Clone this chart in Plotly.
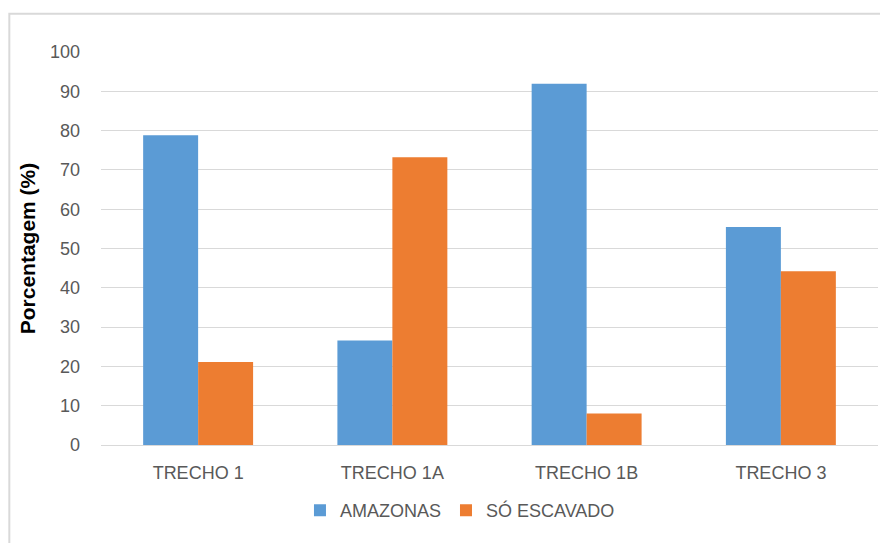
import plotly.graph_objects as go

trechos = ["TRECHO 1", "TRECHO 1A", "TRECHO 1B", "TRECHO 3"]
amazonas = [78.8, 26.6, 91.9, 55.5]
so_escavado = [21.1, 73.2, 8.0, 44.2]

blue = "#5B9BD5"
orange = "#ED7D31"
font_family = "Liberation Sans"

fig = go.Figure()
fig.add_trace(go.Bar(name="AMAZONAS", x=trechos, y=amazonas,
                     marker=dict(color=blue, line=dict(width=0))))
fig.add_trace(go.Bar(name="SÓ ESCAVADO", x=trechos, y=so_escavado,
                     marker=dict(color=orange, line=dict(width=0))))

fig.update_layout(
    width=880, height=543,
    margin=dict(l=101, r=2, t=52, b=98),
    paper_bgcolor="white", plot_bgcolor="white",
    barmode="group", bargap=0.434, bargroupgap=0,
    font=dict(family=font_family, size=16, color="#595959"),
    showlegend=True,
    legend=dict(orientation="h", x=0.462, xanchor="center", y=-0.167, yanchor="middle",
                font=dict(size=18, color="#595959"), itemwidth=30, traceorder="normal"),
    xaxis=dict(showgrid=False, showline=False, ticks="", ticklabelstandoff=15,
               tickfont=dict(size=18, color="#595959")),
    yaxis=dict(range=[0, 100], dtick=10, showgrid=True, gridcolor="#d9d9d9", gridwidth=1,
               zeroline=True, zerolinecolor="#d9d9d9", zerolinewidth=1,
               showline=False, ticks="", ticklabelstandoff=20,
               tickfont=dict(size=18, color="#595959"),
               title=dict(text="<b>Porcentagem (%)</b>", font=dict(size=21, color="black"), standoff=8)),
    shapes=[dict(type="rect", xref="paper", yref="paper", x0=-0.118, y0=-0.4, x1=1.05, y1=1.0975,
                 line=dict(color="#d9d9d9", width=2), fillcolor="rgba(0,0,0,0)", layer="below")],
)

fig.write_html("out.html")
